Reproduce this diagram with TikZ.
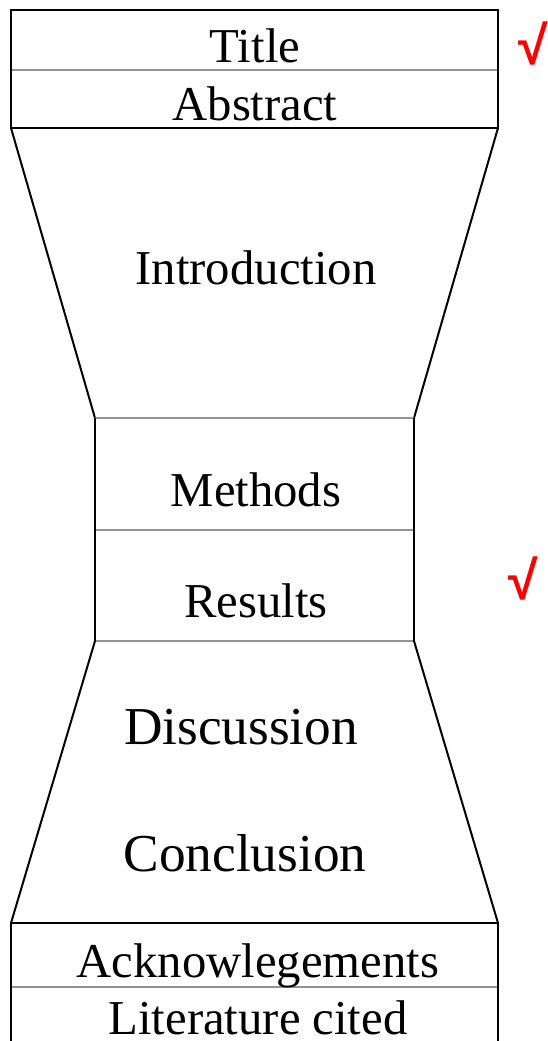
\documentclass[tikz,border=0pt]{standalone}
\usepackage{fontspec}
\setmainfont{Liberation Serif}
\newfontfamily\checkfont{Liberation Sans}
\begin{document}
\begin{tikzpicture}[x=1pt,y=-1pt,
  lbl/.style={anchor=base,inner sep=0pt,font=\fontsize{48.7}{50}\selectfont},
  biglbl/.style={anchor=base,inner sep=0pt,font=\fontsize{53.3}{55}\selectfont},
  blk/.style={draw=black,line width=2pt},
  gry/.style={draw=gray!85,line width=2pt},
  chk/.style={anchor=center,inner sep=0pt,text=red,font=\checkfont\bfseries\fontsize{54}{56}\selectfont}]
\useasboundingbox (0,0) rectangle (548,1041);
% top box
\draw[gry] (11,70) -- (498,70);
\draw[blk] (11,128) -- (11,10) -- (498,10) -- (498,128) -- cycle;
% upper funnel
\draw[blk] (11,128) -- (95,418);
\draw[blk] (498,128) -- (414,418);
% middle
\draw[gry] (95,418) -- (414,418);
\draw[gry] (95,530) -- (414,530);
\draw[gry] (95,641) -- (414,641);
\draw[blk] (95,418) -- (95,641);
\draw[blk] (414,418) -- (414,641);
% lower funnel
\draw[blk] (95,641) -- (11,923);
\draw[blk] (414,641) -- (498,923);
% bottom box
\draw[gry] (11,987) -- (498,987);
\draw[blk] (11,1045) -- (11,923) -- (498,923) -- (498,1045);
% labels
\node[lbl] (title) at (255,63) {Title};
\node[lbl] (abs) at (255,120) {Abstract};
\node[lbl] (intro) at (256,284) {Introduction};
\node[lbl] (meth) at (256,506) {Methods};
\node[lbl] (res) at (256,617) {Results};
\node[biglbl] (disc) at (241,744) {Discussion};
\node[biglbl] (conc) at (245,871) {Conclusion};
\node[lbl] (ack) at (258,977) {Acknowlegements};
\node[lbl] (lit) at (258,1034) {Literature cited};
% checks
\node[chk] (c1) at (533,43) {√};
\node[chk] (c2) at (523,578) {√};
\end{tikzpicture}
\end{document}
